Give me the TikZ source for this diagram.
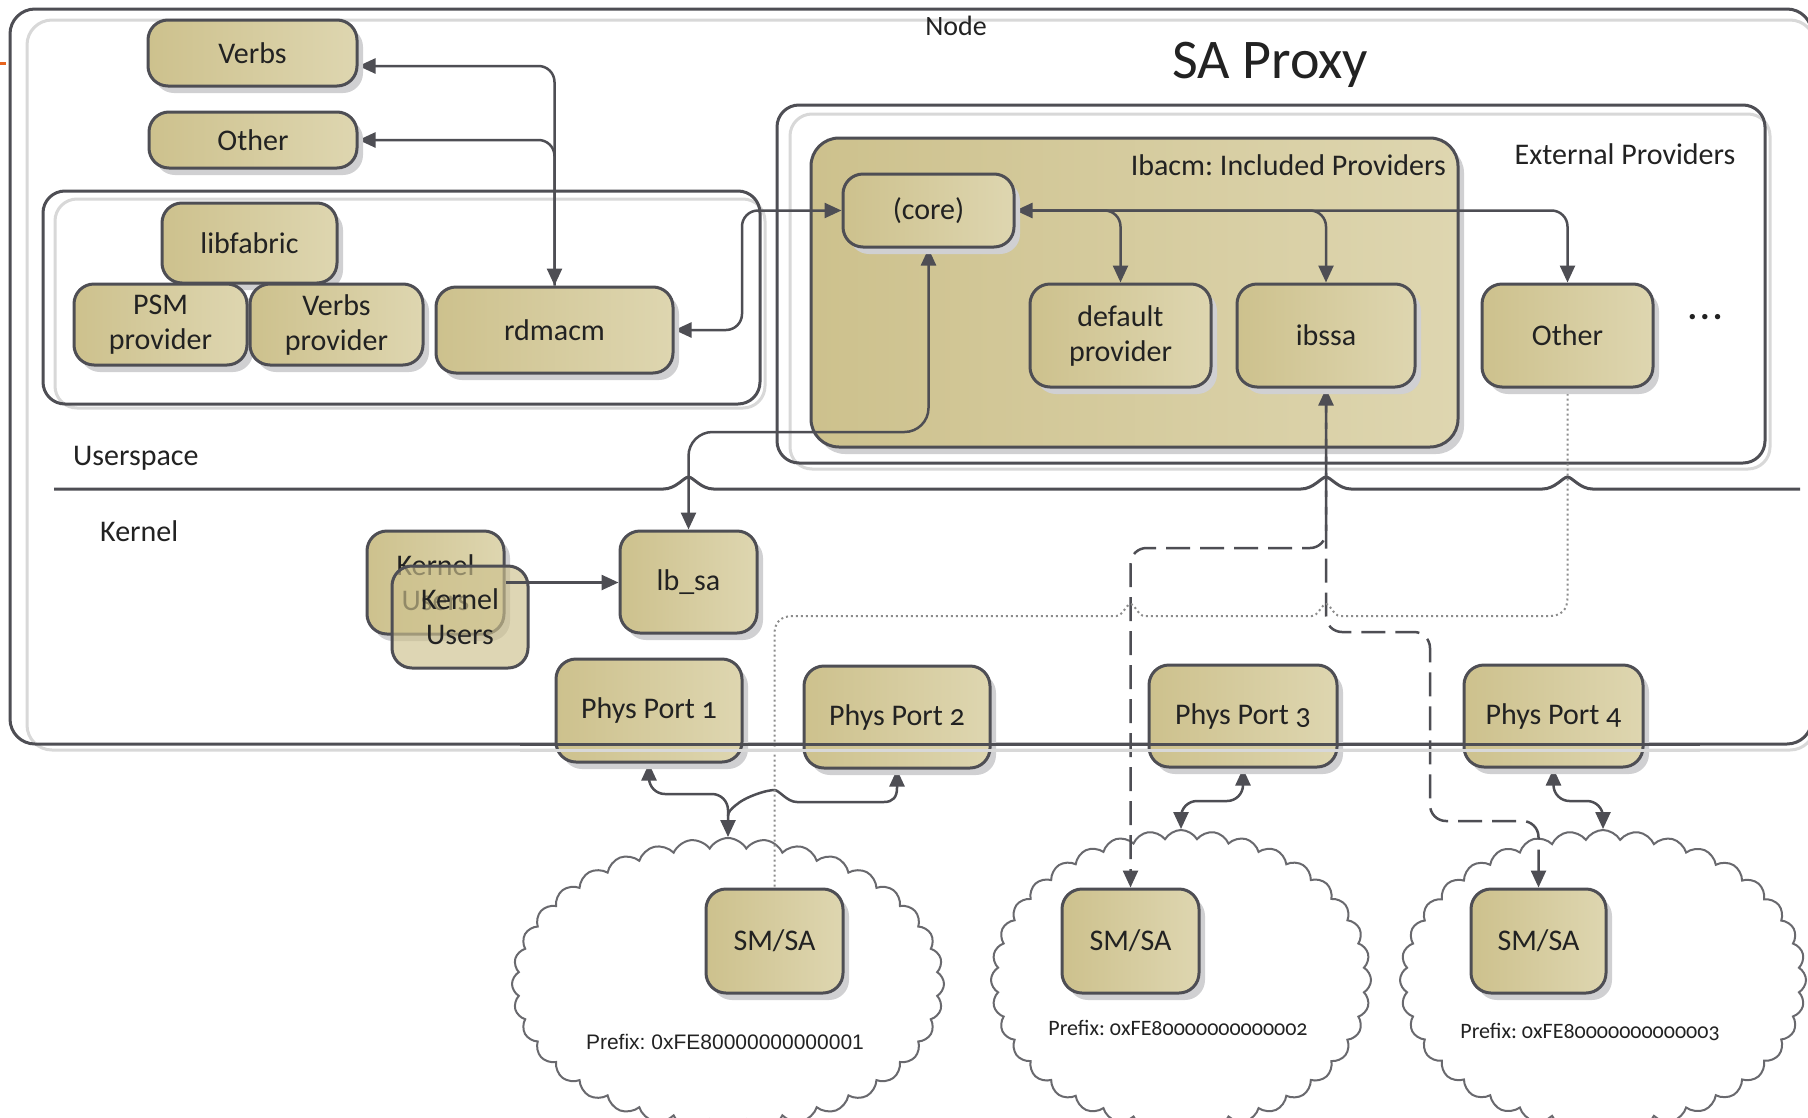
\documentclass[tikz,border=0pt]{standalone}
\usepackage{fontspec}
\setmainfont{Carlito}[Numbers=OldStyle]
\newfontfamily\arialfont{Liberation Sans}
\usetikzlibrary{shapes.symbols,shadows,arrows.meta,calc}
\definecolor{lineC}{RGB}{78,78,84}
\definecolor{lightC}{RGB}{216,216,216}
\definecolor{tanL}{RGB}{205,193,141}
\definecolor{tanR}{RGB}{222,214,176}
\definecolor{txtC}{RGB}{34,34,34}
\definecolor{dotC}{RGB}{140,140,140}
\definecolor{shC}{RGB}{208,208,210}
\definecolor{orangeC}{RGB}{230,100,30}
\newcommand\lblfont{\fontsize{30}{35}\selectfont}
\pgfdeclarelayer{back}
\pgfdeclarelayer{mid}
\pgfdeclarelayer{front}
\pgfsetlayers{back,mid,main,front}
\tikzset{
  box/.style={draw=lineC, line width=3pt, rounded corners=20pt, left color=tanL, right color=tanR,
    drop shadow={shadow xshift=6pt, shadow yshift=-7pt, fill=shC, opacity=1},
    text=txtC, font=\lblfont, align=center, inner sep=2pt},
  boxns/.style={draw=lineC, line width=3pt, rounded corners=20pt, fill=tanL, fill opacity=0.65, text opacity=1,
    text=txtC, font=\lblfont, align=center, inner sep=2pt},
  conn/.style={draw=lineC, line width=2.5pt, rounded corners=16pt, >={Triangle[length=17pt,width=15pt]}},
  dashc/.style={conn, dash pattern=on 24pt off 10pt},
  dotc/.style={draw=dotC, line width=2pt, dash pattern=on 2pt off 3pt},
  frameD/.style={draw=lineC, line width=3pt},
  frameL/.style={draw=lightC, line width=3pt},
  lbl/.style={text=txtC, font=\lblfont, inner sep=0pt},
  cloudS/.style={cloud, draw=lineC!85, line width=2pt, cloud puffs=36, cloud puff arc=120, cloud ignores aspect, inner sep=0pt},
}
\begin{document}
\frenchspacing
\begin{tikzpicture}[x=1pt,y=-1pt]
\useasboundingbox (0,0) rectangle (1808,1117);

\begin{pgfonlayer}{back}
\fill[white] (0,0) rectangle (1808,1117);
\draw[orangeC, line width=3pt] (0,63) -- (6,63);
% Node frame
\draw[frameL, rounded corners=25pt] (27,20) rectangle (1815,750);
\draw[frameD, rounded corners=25pt] (10,9) rectangle (1812,744);
% group frames
\draw[frameL, rounded corners=22pt] (55,199) rectangle (765,408);
\draw[frameD, rounded corners=22pt] (43,191) rectangle (760,404);
\draw[frameL, rounded corners=22pt] (790,114) rectangle (1770,469);
\draw[frameD, rounded corners=22pt] (777,105) rectangle (1765,463);
% ibacm box
\node[box, rounded corners=28pt, minimum width=647pt, minimum height=309pt] (ibacm) at (1134.5,292.5) {};
% clouds
\node[cloudS, minimum width=432pt, minimum height=292pt] (cloud1) at (728,984) {};
\node[cloudS, minimum width=380pt, minimum height=300pt] (cloud2) at (1181,980) {};
\node[cloudS, minimum width=406pt, minimum height=300pt] (cloud3) at (1603,980) {};
% userspace / kernel divider with hops
\draw[frameD] (54,489) -- (663.5,489)
  .. controls (676,489) and (684,477) .. (688.5,477) .. controls (693,477) and (701,489) .. (713.5,489)
  -- (1301,489)
  .. controls (1313.5,489) and (1321.5,477) .. (1326,477) .. controls (1330.5,477) and (1338.5,489) .. (1351,489)
  -- (1542.5,489)
  .. controls (1555,489) and (1563,477) .. (1567.5,477) .. controls (1572,477) and (1580,489) .. (1592.5,489)
  -- (1800,489);
\end{pgfonlayer}

% nodes
\node[box, minimum width=209pt, minimum height=66pt] (verbs) at (252.5,53) {Verbs};
\node[box, minimum width=208pt, minimum height=56pt] (other) at (253,140) {Other};
\node[box, minimum width=175pt, minimum height=80pt] (libfab) at (249.5,243) {libfabric};
\node[box, minimum width=173pt, minimum height=81pt] (psm) at (160.5,324.5) {PSM\\provider};
\node[box, minimum width=173pt, minimum height=81pt] (vprov) at (336.5,324.5) {Verbs\\provider};
\node[box, minimum width=237pt, minimum height=86pt] (rdmacm) at (554.5,330) {rdmacm};
\node[box, minimum width=171pt, minimum height=73pt] (core) at (928.5,210.5) {(core)};
\node[box, minimum width=181pt, minimum height=103pt] (dflt) at (1120.5,335.5) {default\\provider};
\node[box, minimum width=178pt, minimum height=103pt] (ibssa) at (1326,335.5) {ibssa};
\node[box, minimum width=171pt, minimum height=103pt] (otherx) at (1567.5,335.5) {Other};
\node[box, minimum width=137pt, minimum height=103pt] (kub) at (435.5,582.5) {Kernel\\Users};
\node[boxns, minimum width=136pt, minimum height=102pt] (kuf) at (460,617) {Kernel\\Users};
\node[box, minimum width=137pt, minimum height=102pt] (lbsa) at (688.5,582) {lb\_sa};
\node[box, minimum width=186pt, minimum height=103pt] (pp1) at (649,710.5) {Phys Port 1};
\node[box, minimum width=186pt, minimum height=102pt] (pp2) at (897,717) {Phys Port 2};
\node[box, minimum width=188pt, minimum height=102pt] (pp3) at (1243,716) {Phys Port 3};
\node[box, minimum width=179pt, minimum height=102pt] (pp4) at (1553.5,716) {Phys Port 4};
\node[box, minimum width=137pt, minimum height=104pt] (sm1) at (774.5,941) {SM/SA};
\node[box, minimum width=137pt, minimum height=104pt] (sm2) at (1130.5,941) {SM/SA};
\node[box, minimum width=135pt, minimum height=104pt] (sm3) at (1538.5,941) {SM/SA};

\begin{pgfonlayer}{mid}
% rdmacm to Verbs / Other
\draw[conn,<->] ($(verbs.east)+(0,13)$) -- ($(rdmacm.north |- verbs.east)+(0,13)$) -- (rdmacm.north);
\draw[conn,->] (rdmacm.north) -- (rdmacm.north |- other.east) -- (other.east);
% rdmacm to core
\draw[conn,<->] (rdmacm.east) -- (742,330) -- (742,210.5) -- (core.west);
% core to providers
\draw[conn,<->] (core.east) -- (core.east -| otherx.north) -- (otherx.north);
\draw[conn,->] (core.east) -- (core.east -| dflt.north) -- (dflt.north);
\draw[conn,->] (core.east) -- (core.east -| ibssa.north) -- (ibssa.north);
% core to lb_sa
\draw[conn,<->, rounded corners=24pt] (core.south) -- (core.south |- 0,432) -- (lbsa.north |- 0,432) -- (lbsa.north);
% ports to clouds
\coordinate (j1) at (728,816);
\draw[conn,<->] (pp1.south) -- (pp1.south |- 0,794) -- (cloud1.north |- 0,794) -- (cloud1.north);
\draw[conn,sharp corners,<-] (pp2.south) -- (897,788) .. controls (897,797) and (893,802) .. (884,802)
  -- (797,802) .. controls (787,802) and (779,790) .. (774.5,790)
  .. controls (766,790) and (745,797) .. (736,805) .. controls (731,809) and (728,812) .. (j1);
\draw[conn,<->] (pp3.south) -- (pp3.south |- 0,801) -- (cloud2.north |- 0,801) -- (cloud2.north);
\draw[conn,<->] (pp4.south) -- (pp4.south |- 0,801) -- (cloud3.north |- 0,801) -- (cloud3.north);
% dashed ibssa to SM/SA 2 and 3
\draw[dashc,<->] (ibssa.south) -- (ibssa.south |- 0,548) -- (sm2.north |- 0,548) -- (sm2.north);
\draw[dashc,->] (ibssa.south) -- (ibssa.south |- 0,632) -- (1430,632) -- (1430,821) -- (sm3.north |- 0,821) -- (sm3.north);
% dotted Other to SM/SA 1
\draw[dotc] (otherx.south) -- (1567.5,598) .. controls (1567.5,610) and (1561,616) .. (1549,616)
  -- (1340,616) .. controls (1334,616) and (1330,604) .. (1326,604) .. controls (1322,604) and (1318,616) .. (1312,616)
  -- (1144.5,616) .. controls (1138.5,616) and (1134.5,604) .. (1130.5,604) .. controls (1126.5,604) and (1122.5,616) .. (1116.5,616)
  -- (793,616) .. controls (781,616) and (774.5,622) .. (774.5,634) -- (sm1.north);
\end{pgfonlayer}

\begin{pgfonlayer}{front}
% frame bottom over ports
\draw[frameL] (520,750) -- (1700,750);
\draw[frameD] (520,744) -- (1700,744);
% kernel users to lb_sa
\draw[conn,->] (kub.east) -- (kub.east -| lbsa.west);
% labels
\node[lbl, font=\fontsize{28}{32}\selectfont] (nodelbl) at (956,26) {Node};
\node[lbl, font=\fontsize{56}{64}\selectfont] (title) at (1270,65) {SA Proxy};
\node[lbl, anchor=east] (ibacmlbl) at (1446,165) {Ibacm: Included Providers};
\node[lbl] (extlbl) at (1625,154) {External Providers};
\node[lbl, anchor=west] (uslbl) at (73,458) {Userspace};
\node[lbl, anchor=west] (klbl) at (100,531) {Kernel};
\node[lbl, font=\bfseries\fontsize{36}{40}\selectfont] (dots) at (1705,317) {.\hspace{3pt}.\hspace{3pt}.};
\node[text=txtC, font=\arialfont\fontsize{21}{24}\selectfont, inner sep=0pt] (pfx1) at (725,1042) {Prefix: 0xFE80000000000001};
\node[text=txtC, font=\fontsize{22}{26}\selectfont, inner sep=0pt] (pfx2) at (1178,1028) {Prefix: 0xFE80000000000002};
\node[text=txtC, font=\fontsize{22}{26}\selectfont, inner sep=0pt] (pfx3) at (1590,1032) {Prefix: 0xFE80000000000003};
\end{pgfonlayer}
\end{tikzpicture}
\end{document}
